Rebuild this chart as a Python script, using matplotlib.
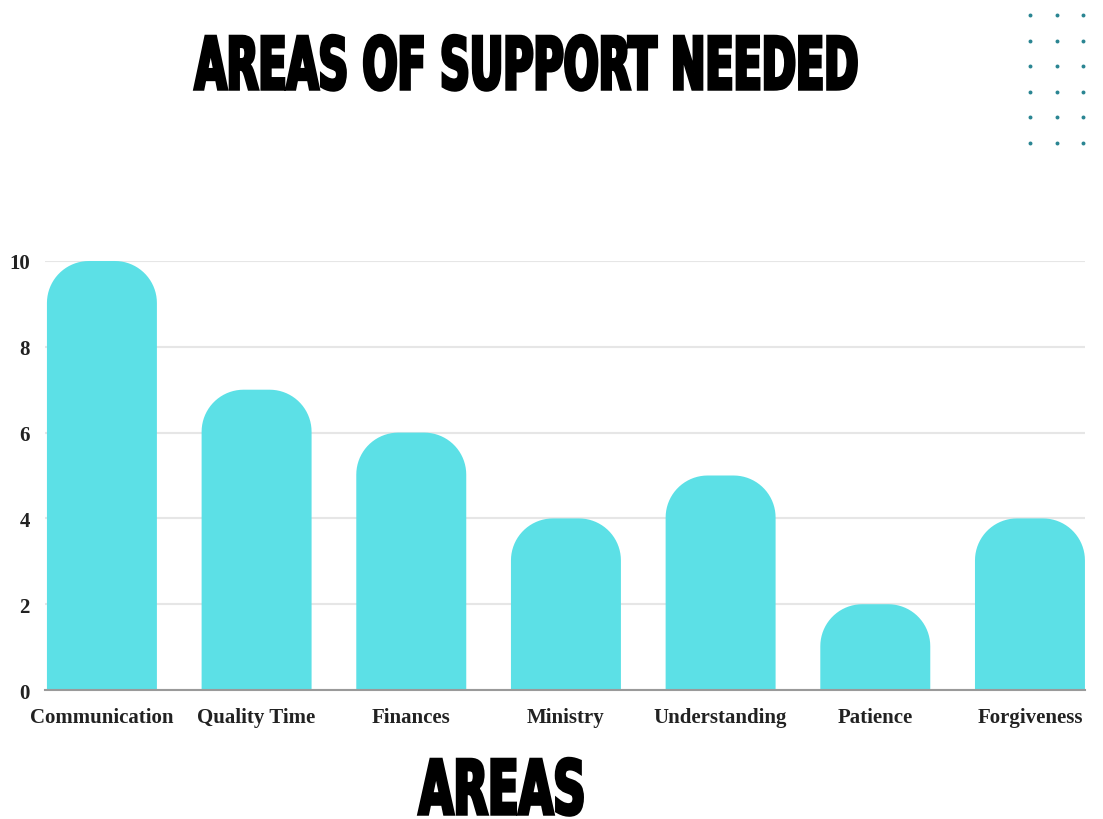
import numpy as np
import matplotlib
matplotlib.use('Agg')
import matplotlib.pyplot as plt
from matplotlib import font_manager
from matplotlib.path import Path
from matplotlib.patches import PathPatch
from matplotlib.textpath import TextPath
from matplotlib.transforms import Affine2D
import matplotlib.patheffects as pe

# Dados do gráfico
areas = ['Communication', 'Quality Time', 'Finances', 'Ministry',
         'Understanding', 'Patience', 'Forgiveness']
counts = [10, 7, 6, 4, 5, 2, 4]
y_ticks = [0, 2, 4, 6, 8, 10]

bar_color = '#5ce0e6'

# Procurar uma fonte condensada e pesada para o título
condensed = None
for f in font_manager.fontManager.ttflist:
    if f.stretch in ('condensed', 'semi-condensed', 'extra-condensed') or \
            f.stretch in (300, 400, 200, 100) or 'Narrow' in f.name or 'Condensed' in f.name:
        if f.weight in ('bold', 700, 800, 900, 'heavy', 'black', 'extra bold'):
            condensed = f
            break
if condensed is not None:
    title_fp = font_manager.FontProperties(fname=condensed.fname)
else:
    title_fp = font_manager.FontProperties(family='DejaVu Sans', weight='bold')


class Squeeze(pe.AbstractPathEffect):
    """Estreita o texto na horizontal em torno de cx e engrossa o traço."""

    def __init__(self, sx, cx, lw):
        super().__init__()
        self.sx, self.cx, self.lw = sx, cx, lw

    def draw_path(self, renderer, gc, tpath, affine, rgbFace):
        squeeze = Affine2D().translate(-self.cx, 0).scale(self.sx, 1).translate(self.cx, 0)
        gc0 = renderer.new_gc()
        gc0.copy_properties(gc)
        gc0.set_linewidth(self.lw)
        gc0.set_foreground('black')
        gc0.set_joinstyle('miter')
        renderer.draw_path(gc0, tpath, affine + squeeze, rgbFace)
        gc0.restore()


fig = plt.figure(figsize=(11.03, 8.2), dpi=100)
ax = fig.add_axes([0.0408, 0.1573, 0.9429, 0.5232])

bars = ax.bar(range(len(areas)), counts, width=0.711, color=bar_color)
ax.set_xlim(-0.368, len(areas) - 1 + 0.356)
ax.set_ylim(0, 10)

# Arredondar o topo de cada barra (raio em pixels)
bbox = ax.get_window_extent()
px_x = bbox.width / (ax.get_xlim()[1] - ax.get_xlim()[0])
px_y = bbox.height / (ax.get_ylim()[1] - ax.get_ylim()[0])
r_px = 42
rx, ry = r_px / px_x, r_px / px_y
t = np.linspace(0, np.pi / 2, 20)
for rect in bars:
    x0, w, h = rect.get_x(), rect.get_width(), rect.get_height()
    x1 = x0 + w
    verts = [(x0, 0), (x1, 0), (x1, h - ry)]
    verts += list(zip(x1 - rx + rx * np.cos(t), h - ry + ry * np.sin(t)))
    verts += list(zip(x0 + rx - rx * np.sin(t), h - ry + ry * np.cos(t)))
    verts += [(x0, 0), (x0, 0)]
    codes = [Path.MOVETO] + [Path.LINETO] * (len(verts) - 2) + [Path.CLOSEPOLY]
    rect.set_visible(False)
    ax.add_patch(PathPatch(Path(verts, codes), facecolor=bar_color,
                           edgecolor='none', zorder=2, clip_on=False))

# Grade e eixos
ax.set_yticks(y_ticks)
ax.set_yticklabels([str(v) for v in y_ticks])
ax.yaxis.grid(True, color='#e6e6e6', linewidth=1.5, zorder=0)
ax.set_axisbelow(True)
for s in ['top', 'right', 'left']:
    ax.spines[s].set_visible(False)
ax.spines['bottom'].set_color('#9a9a9a')
ax.spines['bottom'].set_linewidth(1.5)
ax.spines['bottom'].set_zorder(3)
ax.tick_params(axis='both', length=0)
ax.tick_params(axis='y', pad=11)
ax.tick_params(axis='x', pad=12)
ax.set_xticks(range(len(areas)))
ax.set_xticklabels(areas)
for lbl in ax.get_xticklabels() + ax.get_yticklabels():
    lbl.set_fontfamily('Liberation Serif')
    lbl.set_fontweight('bold')
    lbl.set_fontsize(15)
    lbl.set_color('#222222')

# Título e rótulo do eixo: altura das maiúsculas e largura em pixels
cap_ratio = TextPath((0, 0), 'H', size=1, prop=title_fp).get_extents().height
renderer = fig.canvas.get_renderer()
stroke_lw = 2.5
for label, cx_px, base_px, cap_px, width_px in [
        ('AREAS OF SUPPORT NEEDED', 526.5, 90, 56, 667),
        ('AREAS', 502, 815, 58, 170)]:
    size = (cap_px - stroke_lw * 100 / 72) * 72 / 100 / cap_ratio
    txt = fig.text(cx_px / 1103, 1 - base_px / 820, label, ha='center',
                   va='baseline', fontproperties=title_fp, color='black')
    txt.set_fontsize(size)
    w = txt.get_window_extent(renderer).width
    sx = (width_px - stroke_lw * 100 / 72) / w
    txt.set_path_effects([Squeeze(sx, cx_px, stroke_lw)])

# Pontos decorativos no canto superior direito
dots = fig.add_axes([0.9218, 0.8088, 0.0721, 0.1873])
gx, gy = np.meshgrid(np.arange(3), np.arange(6))
dots.scatter(gx.ravel(), gy.ravel(), s=8, color='#2a8592', linewidths=0)
dots.set_xlim(-0.5, 2.5)
dots.set_ylim(5.5, -0.5)
dots.axis('off')

fig.savefig('out.png', dpi=100)
